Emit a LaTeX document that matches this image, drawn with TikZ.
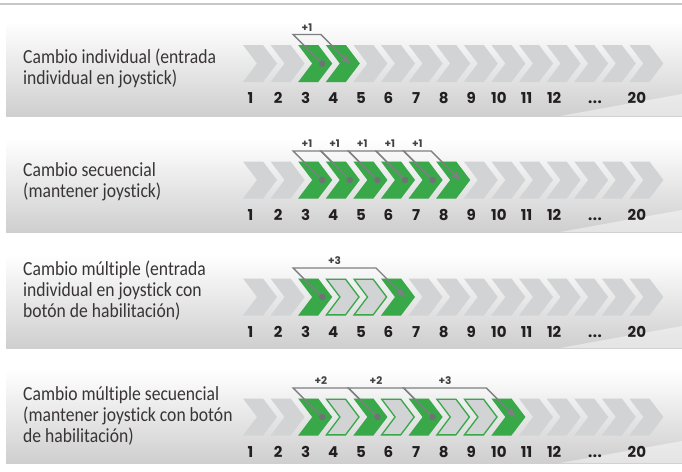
\documentclass[tikz,border=0pt]{standalone}
\usepackage{fontspec}
\setmainfont{Carlito}
\newfontfamily\labelfont{Carlito}[FakeStretch=0.88, Ligatures=NoCommon]
\newfontfamily\numfont{Poppins}
\usetikzlibrary{arrows.meta,calc}
\definecolor{chgray}{RGB}{209,211,212}
\definecolor{chgreen}{RGB}{57,168,73}
\definecolor{brgray}{RGB}{125,127,130}
\definecolor{dotgray}{RGB}{112,114,117}
\definecolor{txt}{RGB}{35,31,32}
\begin{document}
\begin{tikzpicture}[x=1pt,y=-1pt,
  chev/.pic={\path[pic actions] (0,-18.5) -- (20,-18.5) -- (34,0) -- (20,18.5) -- (0,18.5) -- (14,0) -- cycle;},
  chevo/.pic={\path[pic actions] (0.65,-17.85) -- (19.7,-17.85) -- (33.2,0) -- (19.7,17.85) -- (0.65,17.85) -- (14.1,0) -- cycle;},
  num/.style={font=\numfont\fontsize{15}{15}\selectfont\bfseries, text=txt, inner sep=0pt, anchor=base},
  plus/.style={font=\numfont\fontsize{10.5}{10.5}\selectfont\bfseries, text=txt!85, inner sep=0pt},
  lbl/.style={font=\labelfont\fontsize{20}{21}\selectfont, text=txt!90, align=left, inner sep=0pt, anchor=base west},
  bracket/.style={draw=brgray, line width=1.4pt, line join=miter},
  tipped/.style={-{Triangle[length=8.5pt,width=7pt]}},
  brdot/.style={circle, fill=dotgray, inner sep=0pt, minimum size=6.5pt},
  greench/.style={fill=chgreen},
  outch/.style={fill=chgray, draw=chgreen, line width=1.3pt},
]
\useasboundingbox (0,0) rectangle (682,471);
% top rule
\draw[black!22, line width=2.5pt] (0,4) -- (682,4);
% panel backgrounds
\foreach \t/\b in {22/116, 139/232, 255/348, 370/463}{
  \shade[top color=white, middle color=black!4, bottom color=black!19] (6,\t) rectangle (682,\b);
  \fill[white, opacity=0.45] (560,\b) -- (682,\b-22) -- (682,\b) -- cycle;
}
% coordinates
\foreach \r/\cy in {1/63.5,2/180,3/297,4/417}{
  \foreach \k in {1,...,15}{
    \pgfmathsetmacro\xx{243+(\k-1)*27.6}
    \coordinate (c\r-\k) at (\xx,\cy);
    \coordinate (p\r-\k) at (\xx+24,\cy);
    \coordinate (q\r-\k) at (\xx-5,\cy-29);
  }
}
% gray chevrons
\foreach \r in {1,...,4}{
  \foreach \k in {1,...,15}{
    \pic[fill=chgray] at (c\r-\k) {chev};
  }
}
% green chevrons
\foreach \r/\k in {1/3,1/4, 2/3,2/4,2/5,2/6,2/7,2/8, 3/3,3/6, 4/3,4/5,4/7,4/10}{
  \pic[greench] at (c\r-\k) {chev};
}
% outlined chevrons
\foreach \r/\k in {3/4,3/5, 4/4,4/6,4/8,4/9}{
  \pic[outch] at (c\r-\k) {chevo};
}
% numbers
\foreach \r in {1,...,4}{
  \foreach \k in {1,...,12}{
    \node[num] (n\r-\k) at ([shift={(7.5,40)}]c\r-\k) {\k};
  }
  \node[num] (n\r-dots) at ([shift={(20.8,40)}]c\r-13) {.\kern0.6pt.\kern0.6pt.};
  \node[num] (n\r-20) at ([shift={(7.5,40)}]c\r-15) {20};
}
% row 1 bracket
\draw[bracket, tipped] (p1-3) -- (q1-3) -- (q1-4) -- (p1-4);
\node[plus, above=3pt] (l1) at ($(q1-3)!0.5!(q1-4)$) {+1};
% row 2 brackets
\draw[bracket] (p2-3) -- (q2-3) -- (q2-4) -- (p2-4);
\draw[bracket] (p2-4) -- (q2-4) -- (q2-5) -- (p2-5);
\draw[bracket] (p2-5) -- (q2-5) -- (q2-6) -- (p2-6);
\draw[bracket] (p2-6) -- (q2-6) -- (q2-7) -- (p2-7);
\draw[bracket, tipped] (p2-7) -- (q2-7) -- (q2-8) -- (p2-8);
\foreach \a/\b in {3/4,4/5,5/6,6/7,7/8}{
  \node[plus, above=3pt] (l2-\a) at ($(q2-\a)!0.5!(q2-\b)$) {+1};
}
% row 3 bracket
\draw[bracket, tipped] (p3-3) -- (q3-3) -- (q3-6) -- (p3-6);
\node[plus, above=3pt] (l3) at ($(q3-3)!0.5!(q3-6)$) {+3};
% row 4 brackets
\draw[bracket] (p4-3) -- (q4-3) -- (q4-5) -- (p4-5);
\draw[bracket] (p4-5) -- (q4-5) -- (q4-7) -- (p4-7);
\draw[bracket, tipped] (p4-7) -- (q4-7) -- (q4-10) -- (p4-10);
\node[plus, above=3pt] (l4-a) at ($(q4-3)!0.5!(q4-5)$) {+2};
\node[plus, above=3pt] (l4-b) at ($(q4-5)!0.5!(q4-7)$) {+2};
\node[plus, above=3pt] (l4-c) at ($(q4-7)!0.5!(q4-10)$) {+3};
% dots
\foreach \r/\k in {1/3, 2/3,2/4,2/5,2/6,2/7, 3/3, 4/3,4/5,4/7}{
  \node[brdot] (d\r-\k) at (p\r-\k) {};
}
% left labels (anchor = baseline of last line)
\node[lbl] (t1) at (23,84.3) {Cambio individual (entrada\\individual en joystick)};
\node[lbl] (t2) at (23,197) {Cambio secuencial\\(mantener joystick)};
\node[lbl] (t3) at (23,317.7) {Cambio múltiple (entrada\\individual en joystick con\\botón de habilitación)};
\node[lbl] (t4) at (23,442) {Cambio múltiple secuencial\\(mantener joystick con botón\\de habilitación)};
\end{tikzpicture}
\end{document}
